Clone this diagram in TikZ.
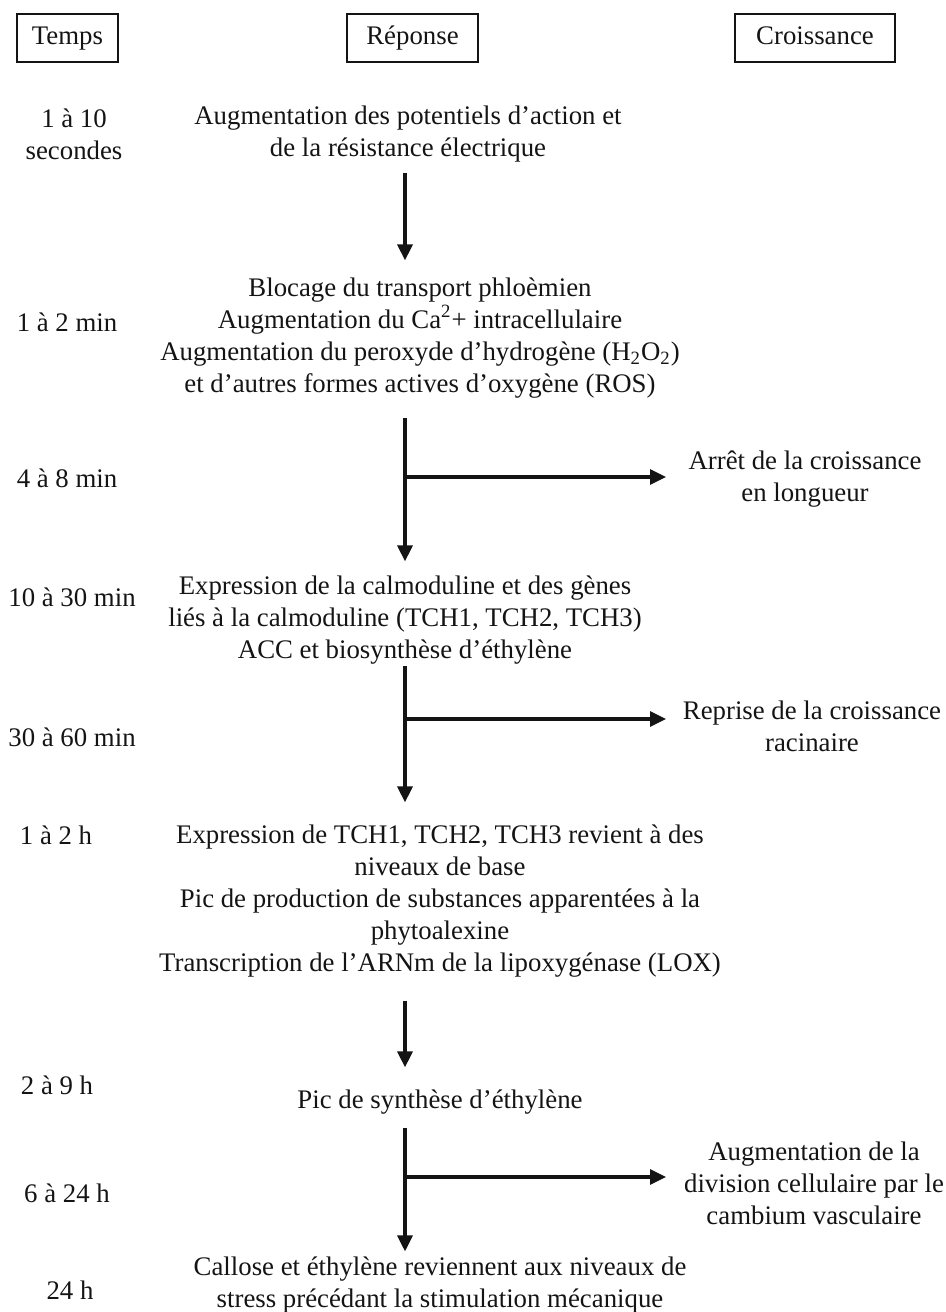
\documentclass[tikz,border=0pt]{standalone}
\usepackage{fontspec}
\setmainfont{Liberation Serif}
\usetikzlibrary{arrows.meta,calc}
\definecolor{encre}{gray}{0.08}

\begin{document}
\begin{tikzpicture}[x=0.5pt,y=-0.5pt,
  every node/.style={font=\fontsize{13.4}{16}\selectfont,inner sep=0pt,text=encre},
  titre/.style={draw=encre,line width=1.2pt,minimum height=24pt,text height=0.76em,text depth=0.12em},
  fleche/.style={draw=encre,line width=1.6pt,-{Triangle[length=8pt,width=7.5pt]}}]
\useasboundingbox (0,0) rectangle (946,1312);
% en-tetes
\node[titre,minimum width=50.5pt] (temps) at (67.5,38) {Temps};
\node[titre,minimum width=65.5pt] (reponse) at (412.5,38) {Réponse};
\node[titre,minimum width=80pt] (croissance) at (815,38) {Croissance};
\begin{scope}[every node/.append style={align=center}]
% colonne des temps
\node (t1) at (74,134) {1 à 10\\secondes};
\node (t2) at (67,322) {1 à 2 min};
\node (t3) at (67,478) {4 à 8 min};
\node (t4) at (72,597) {10 à 30 min};
\node (t5) at (72,737) {30 à 60 min};
\node (t6) at (56,835) {1 à 2 h};
\node (t7) at (57,1085) {2 à 9 h};
\node (t8) at (67,1193) {6 à 24 h};
\node (t9) at (70,1290) {24 h};
% reponses
\node (b1) at (408,134) {Augmentation des potentiels d’action et\\de la résistance électrique};
\node (b2) at (420,338) {Blocage du transport phloèmien\\Augmentation du Ca\textsuperscript{2}+ intracellulaire\\
  Augmentation du peroxyde d’hydrogène (H\textsubscript{2}O\textsubscript{2})\\et d’autres formes actives d’oxygène (ROS)};
\node (b3) at (405,620) {Expression de la calmoduline et des gènes\\liés à la calmoduline (TCH1, TCH2, TCH3)\\ACC et biosynthèse d’éthylène};
\node (b4) at (440,901) {Expression de TCH1, TCH2, TCH3 revient à des\\niveaux de base\\
  Pic de production de substances apparentées à la\\phytoalexine\\Transcription de l’ARNm de la lipoxygénase (LOX)};
\node (b5) at (440,1102) {Pic de synthèse d’éthylène};
\node (b6) at (440,1285) {Callose et éthylène reviennent aux niveaux de\\stress précédant la stimulation mécanique};
% croissance
\node (c1) at (805,479) {Arrêt de la croissance\\en longueur};
\node (c2) at (812,726) {Reprise de la croissance\\racinaire};
\node (c3) at (814,1183) {Augmentation de la\\division cellulaire par le\\cambium vasculaire};
\end{scope}
% tronc et embranchements
\coordinate (tronc) at (405,0);
\coordinate (pointe) at (666,0);
\coordinate (r1) at (405,477);
\coordinate (r2) at (405,719);
\coordinate (r3) at (405,1177);
\draw[fleche,shorten <=5pt,shorten >=8.5pt] (b1.south -| tronc) -- (b2.north -| tronc);
\draw[fleche,shorten <=9.5pt,shorten >=7pt] (b2.south -| tronc) -- (b3.north -| tronc);
\draw[fleche,shorten <=0.5pt,shorten >=11pt] (b3.south -| tronc) -- (b4.north -| tronc);
\draw[fleche,shorten <=11.5pt,shorten >=11pt] (b4.south -| tronc) -- (b5.north -| tronc);
\draw[fleche,shorten <=6.5pt,shorten >=2.5pt] (b5.south -| tronc) -- (b6.north -| tronc);
\draw[fleche] (r1) -- (r1 -| pointe);
\draw[fleche] (r2) -- (r2 -| pointe);
\draw[fleche] (r3) -- (r3 -| pointe);
\end{tikzpicture}
\end{document}
